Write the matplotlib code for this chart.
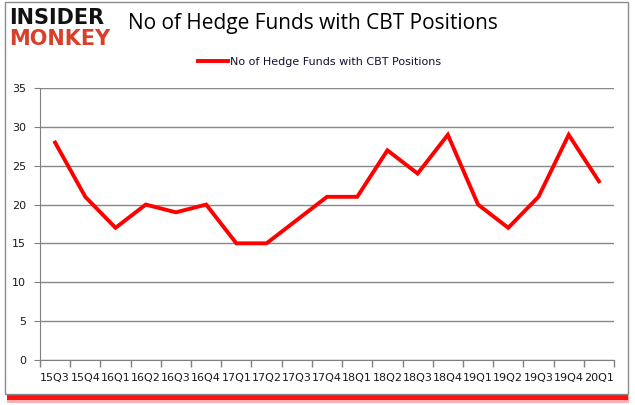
import numpy as np
import matplotlib.pyplot as plt
from matplotlib.patches import Rectangle

# Data
quarters = ['15Q3', '15Q4', '16Q1', '16Q2', '16Q3', '16Q4', '17Q1', '17Q2', '17Q3', '17Q4',
            '18Q1', '18Q2', '18Q3', '18Q4', '19Q1', '19Q2', '19Q3', '19Q4', '20Q1']
funds = [28, 21, 17, 20, 19, 20, 15, 15, 18, 21, 21, 27, 24, 29, 20, 17, 21, 29, 23]

W, H = 635, 405
fig = plt.figure(figsize=(W / 100, H / 100), dpi=100)

# frame with red shadow
fig.patches.append(Rectangle((7 / W, 1 - 403 / H), 622 / W, 9 / H, transform=fig.transFigure,
                             facecolor='#ff6060', edgecolor='none', alpha=0.5, zorder=0))
fig.patches.append(Rectangle((7 / W, 1 - 400 / H), 621 / W, 6 / H, transform=fig.transFigure,
                             facecolor='#ff0000', edgecolor='none', alpha=0.9, zorder=0))
fig.patches.append(Rectangle((5 / W, 1 - 394 / H), 623 / W, 392 / H, transform=fig.transFigure,
                             facecolor='white', edgecolor='#8c8c8c', linewidth=1.0, zorder=1))

ax = fig.add_axes([40 / W, 1 - 359.6 / H, 574 / W, (359.6 - 88.3) / H])
ax.set_zorder(2)
ax.patch.set_alpha(0)

x = np.arange(len(quarters))
ax.plot(x, funds, color='#ff0000', linewidth=2.8, solid_joinstyle='miter',
        label='No of Hedge Funds with CBT Positions')

ax.set_xlim(-0.5, len(quarters) - 0.5)
ax.set_ylim(0, 35)
ax.set_yticks(range(0, 36, 5))
ax.set_xticks(x)
ax.set_xticklabels(quarters)
ax.set_xticks(np.arange(-0.5, len(quarters), 1), minor=True)
ax.tick_params(axis='x', which='major', length=0, pad=10, labelsize=8, labelcolor='#1a1a1a')
ax.tick_params(axis='x', which='minor', length=5, color='#808080', width=1)
ax.tick_params(axis='y', length=4, color='#808080', labelsize=8, labelcolor='#1a1a1a', pad=6)

ax.grid(axis='y', color='#888888', linewidth=1)
for s in ['top', 'right']:
    ax.spines[s].set_visible(False)
for s in ['left', 'bottom']:
    ax.spines[s].set_color('#808080')

leg = ax.legend(loc='center', bbox_to_anchor=(0.487, 1 + 26.6 / 271.3), frameon=False,
                fontsize=8, handlelength=2.7, handletextpad=0.1, borderaxespad=0,
                borderpad=0)
for t in leg.get_texts():
    t.set_color('#111133')

fig.text(128 / W, 1 - 23 / H, 'No of Hedge Funds with CBT Positions', fontsize=15,
         va='center', ha='left', color='black', family='Open Sans', fontweight='medium')

# logo
fig.text(9 / W, 1 - 18 / H, 'INSIDER', fontsize=15, fontweight='heavy', color='#111111',
         va='center', ha='left', family='DejaVu Sans')
fig.text(9 / W, 1 - 39 / H, 'MONKEY', fontsize=15, fontweight='heavy', color='#d8402a',
         va='center', ha='left', family='DejaVu Sans')

fig.savefig('out.png', dpi=100)
